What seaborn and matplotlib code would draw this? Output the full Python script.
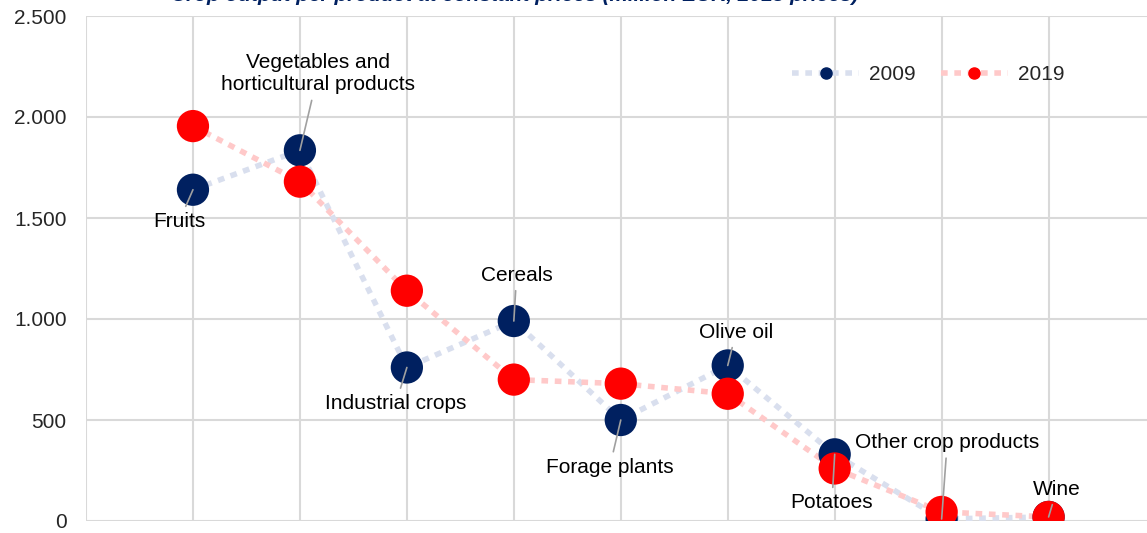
import pandas as pd
import numpy as np
import matplotlib.pyplot as plt
import seaborn as sns
from matplotlib.lines import Line2D

# Datos
productos = ['Fruits', 'Vegetables and\nhorticultural products', 'Industrial crops', 'Cereals',
             'Forage plants', 'Olive oil', 'Potatoes', 'Other crop products', 'Wine']
valores_2009 = [1640, 1835, 760, 990, 500, 770, 330, 10, 20]
valores_2019 = [1955, 1680, 1140, 700, 680, 630, 260, 45, 20]

df = pd.DataFrame({
    'pos': list(range(len(productos))) * 2,
    'valor': valores_2009 + valores_2019,
    'anio': ['2009'] * len(productos) + ['2019'] * len(productos),
})

sns.set_style('white')
plt.rcParams['font.family'] = ['Liberation Sans', 'DejaVu Sans']

fig = plt.figure(figsize=(11.47, 5.33), dpi=100)
ax = fig.add_axes([86 / 1147, 12 / 533, 1 - 86 / 1147, (521 - 16) / 533])

colores_linea = {'2009': '#d9dfee', '2019': '#ffc9c9'}
colores_marca = {'2009': '#002060', '2019': '#ff0000'}

for anio in ['2009', '2019']:
    d = df[df['anio'] == anio]
    sns.lineplot(data=d, x='pos', y='valor', ax=ax, color=colores_linea[anio],
                 linewidth=4, linestyle=(0, (1.2, 1.2)), zorder=2)
    sns.scatterplot(data=d, x='pos', y='valor', ax=ax, color=colores_marca[anio],
                    s=540, edgecolor='none', zorder=3 if anio == '2009' else 4)

# Etiquetas con líneas guía (desplazamiento en puntos)
offsets = [(-10, -23), (13, 55), (-8, -26), (2, 33), (-8, -34), (6, 24), (-2, -35), (4, 55), (6, 20)]
for i, (nombre, off) in enumerate(zip(productos, offsets)):
    y = valores_2009[i]
    ax.annotate(nombre, xy=(i, y), xytext=off, textcoords='offset points',
                ha='center', va='center', fontsize=15, color='black', zorder=6,
                arrowprops=dict(arrowstyle='-', color='#a0a0a0', lw=1.2,
                                shrinkA=2, shrinkB=0))

# Leyenda
handles = [Line2D([0], [0], color=colores_linea[a], lw=4, linestyle=(0, (1.2, 1.2)),
                  marker='o', markersize=8, markerfacecolor=colores_marca[a],
                  markeredgecolor=colores_marca[a]) for a in ['2009', '2019']]
ax.legend(handles, ['2009', '2019'], loc='upper right', bbox_to_anchor=(0.94, 0.94),
          ncol=2, frameon=False, fontsize=15, handlelength=3.2, columnspacing=1.2,
          handletextpad=0.5)

ax.set_xlim(-1, 8.92)
ax.set_ylim(0, 2500)
ax.set_xticks(range(-1, 9))
ax.set_xticklabels([])
ax.set_yticks(range(0, 2501, 500))
ax.set_yticklabels([f'{v:,}'.replace(',', '.') for v in range(0, 2501, 500)], fontsize=15)
ax.tick_params(axis='both', length=0, pad=14)
ax.grid(True, color='#d9d9d9', linewidth=1.5)
ax.set_axisbelow(True)
ax.set_xlabel('')
ax.set_ylabel('')
sns.despine(ax=ax, left=True, bottom=True, right=True, top=True)

# Título (cortado en el borde superior, como en el original)
fig.text(515 / 1147, 1 - 1 / 533, 'Crop output per product at constant prices (million EUR, 2015 prices)',
         ha='center', va='baseline', fontsize=15, fontweight='bold', fontstyle='italic',
         color='#002060')

fig.savefig('out.png', dpi=100)
